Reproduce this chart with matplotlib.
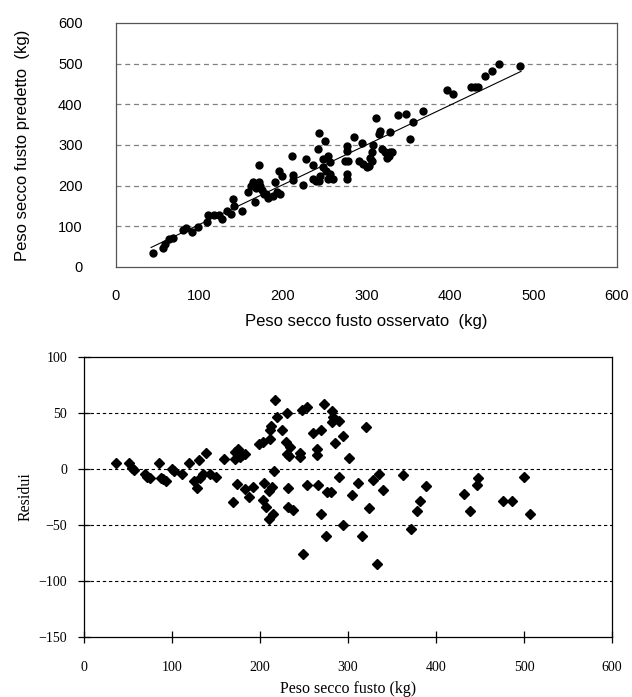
import matplotlib
matplotlib.use("Agg")
import matplotlib.pyplot as plt

# ---- Top panel: observed vs predicted stem dry weight (kg) ----
observed = [43.9, 55.9, 58.7, 63.9, 68.6, 79.8, 83.7, 90.6, 98.6, 108.6, 110.6, 117.4,
            123.7, 126.6, 133.3, 137.3, 139.7, 141.3, 151.3, 158.5, 161.3, 164.5, 166.5,
            170.9, 171.7, 174.5, 177.3, 182.4, 187.6, 190.4, 192.4, 195.6, 198.4,
            167.5, 173.0, 180.0, 196.0,
            210.4, 211.6, 211.6, 224.4, 227.6, 236.4, 235.6, 239.2, 243.2, 243.2, 250.0,
            242.0, 248.0, 254.0, 256.0, 248.0, 251.6, 256.4, 260.4, 254.4, 244.4, 274.2,
            278.2, 276.2, 276.2, 277.0, 277.0, 285.0, 294.2, 291.4, 296.2, 301.0, 303.4,
            306.2, 304.2, 306.2, 308.2, 311.4, 316.2, 315.4, 318.6, 322.6, 326.6, 328.6,
            330.6, 324.6, 327.8, 337.4, 347.8, 352.6, 355.8,
            368.0, 396.0, 403.2, 425.2, 429.9, 433.1, 442.4, 450.5, 458.5, 484.1]
predicted = [35, 47.5, 55.8, 68.3, 72.5, 91.7, 95, 85, 97.5, 111.7, 126.7, 128.3,
             126.7, 118.3, 136.7, 130.8, 166.7, 150, 136.7, 185, 200, 210, 160,
             250, 210, 189.2, 178.3, 170, 175, 210, 185, 235, 225,
             195, 200, 180, 180,
             271.8, 226.1, 214.7, 201.6, 265.3, 250.6, 216.3, 212, 212, 329, 310.2,
             289.8, 265.3, 273.5, 257.1, 244.9, 236.7, 228.6, 216.3, 216.3, 224.5, 261.2,
             261.2, 298, 285.7, 228.6, 216.3, 320.8, 306.1, 261, 253, 245, 249,
             261, 269, 283.3, 299.6, 367.3, 334.7, 326.5, 289.8, 281.6, 273.5, 283.3,
             281.6, 267, 332.2, 373, 376.3, 315.9, 356.7,
             383.3, 435, 425, 441.7, 441.7, 441.7, 470, 480.8, 500, 493.3]
trend_x = [42, 485]
trend_y = [48, 481]

# ---- Bottom panel: residuals vs fitted ----
fitted = [36, 51.5, 54.9, 57.2, 69.3, 71.2, 75, 85.2, 87.5, 89.5, 92.8, 99.6, 102.3,
          111.7, 119.3, 130.7, 138.6, 125.4, 128.8, 131.8, 135.6, 143.2, 150, 159.1,
          171.6, 175, 177.3, 172, 180, 183, 174.2, 169.7, 183, 187.8, 192.4, 199.2, 203,
          217, 219, 230.3, 247.4, 253.8, 272.7, 281.4, 282.6, 281.4, 290, 212.2, 211.4,
          225.4, 211.4, 229.5, 234.1, 230.3, 233, 245.5, 245.5, 260.6, 269, 264.4, 265.1,
          285.2, 293.9, 320.5, 301.5,
          216, 204.5, 213.3, 210.6, 203.8, 206.8, 214.4, 210.6, 232.2, 232.2, 237.9,
          253.8, 266.3, 276.5, 280.3, 269, 290, 293.9, 275, 304.2, 311.7, 249.2, 315.6,
          324.2, 328, 335.6, 339.4, 332.6,
          362.9, 388.3, 381.8, 378.8, 371.2, 431.8, 438.6, 446.2, 448.1, 476.5, 486,
          500.4, 506.8]
residuals = [5.5, 5.2, 1.0, -1.3, -4.3, -7.3, -7.9, 5.5, -7.9, -9.0, -10.3, -0.4, -1.9,
             -4.3, 5.5, 7.6, 14.7, -10.9, -16.8, -7.9, -4.3, -4.9, -7.3, 8.5,
             15.0, 17.5, 11, 9, 12.5, 13.6, -13.2, -29.6, -17.7, -24.6, -16.2, 22.5, 23.9,
             61.2, 46.3, 49.8, 53.1, 55.8, 57.6, 51.6, 46.3, 41.8, 42.7, 38.8, 35,
             34.4, 27, 23.9, 19.5, 13.6, 12, 14.1, 10.5, 32, 34.4, 18, 12.1,
             23, 29.3, 37.3, 10,
             -2.2, -12.7, -16.2, -19.2, -28.1, -34.1, -40.6, -44.5, -17.1, -34.1, -36.4,
             -14.7, -14.7, -20.7, -20.7, -40.6, -6.7, -49.6, -60, -22.8, -12.7, -75.7, -60,
             -34.6, -9.6, -4.9, -18.6, -84.6,
             -5.2, -15.4, -29, -37.1, -54, -22.1, -37.7, -14.7, -7.9, -28.8, -28.8,
             -6.7, -40]

top_xticks = [0, 100, 200, 300, 400, 500, 600]
top_yticks = [0, 100, 200, 300, 400, 500, 600]
bot_xticks = [0, 100, 200, 300, 400, 500, 600]
bot_yticks = [-150, -100, -50, 0, 50, 100]

fig = plt.figure(figsize=(6.32, 6.97), dpi=100)

sans = ['Liberation Sans', 'DejaVu Sans']
serif = ['Liberation Serif', 'DejaVu Serif']

# Top axes
ax1 = fig.add_axes([116/632, 1-267/697, 501/632, 244/697])
ax1.set_xlim(0, 600)
ax1.set_ylim(0, 600)
for y in top_yticks[1:-1]:
    ax1.axhline(y, color='#808080', lw=0.9, ls=(0, (4, 3)), zorder=1)
ax1.plot(trend_x, trend_y, color='black', lw=0.8, zorder=2)
ax1.scatter(observed, predicted, s=36, color='black', marker='o', linewidths=0, zorder=3)
ax1.set_xticks(top_xticks)
ax1.set_yticks(top_yticks)
ax1.tick_params(length=0, labelsize=10.5)
ax1.tick_params(axis='y', pad=24)
ax1.tick_params(axis='x', pad=16)
for lab in ax1.get_xticklabels() + ax1.get_yticklabels():
    lab.set_family(sans)
for sp in ax1.spines.values():
    sp.set_color('#555555')
    sp.set_linewidth(0.9)
ax1.set_xlabel('Peso secco fusto osservato  (kg)', family=sans, fontsize=12, labelpad=8)
ax1.set_ylabel('Peso secco fusto predetto  (kg)', family=sans, fontsize=12, labelpad=20)

# Bottom axes
ax2 = fig.add_axes([84/632, 1-637/697, 528/632, 280/697])
ax2.set_xlim(0, 600)
ax2.set_ylim(-150, 100)
for y in bot_yticks[1:-1]:
    ax2.axhline(y, color='black', lw=0.8, ls=(0, (3, 2.5)), zorder=1)
ax2.plot(fitted, residuals, ls='none', marker='D', markersize=5.3, color='black', zorder=3)
ax2.set_xticks(bot_xticks)
ax2.set_yticks(bot_yticks)
ax2.tick_params(direction='inout', length=8, width=0.9, labelsize=10)
ax2.tick_params(axis='x', pad=13)
ax2.tick_params(axis='y', pad=8)
for lab in ax2.get_xticklabels() + ax2.get_yticklabels():
    lab.set_family(serif)
for sp in ax2.spines.values():
    sp.set_color('black')
    sp.set_linewidth(0.9)
ax2.set_xlabel('Peso secco fusto (kg)', family=serif, fontsize=11.5, labelpad=5)
ax2.set_ylabel('Residui', family=serif, fontsize=11.5, labelpad=4)

fig.savefig('out.png', dpi=100)
